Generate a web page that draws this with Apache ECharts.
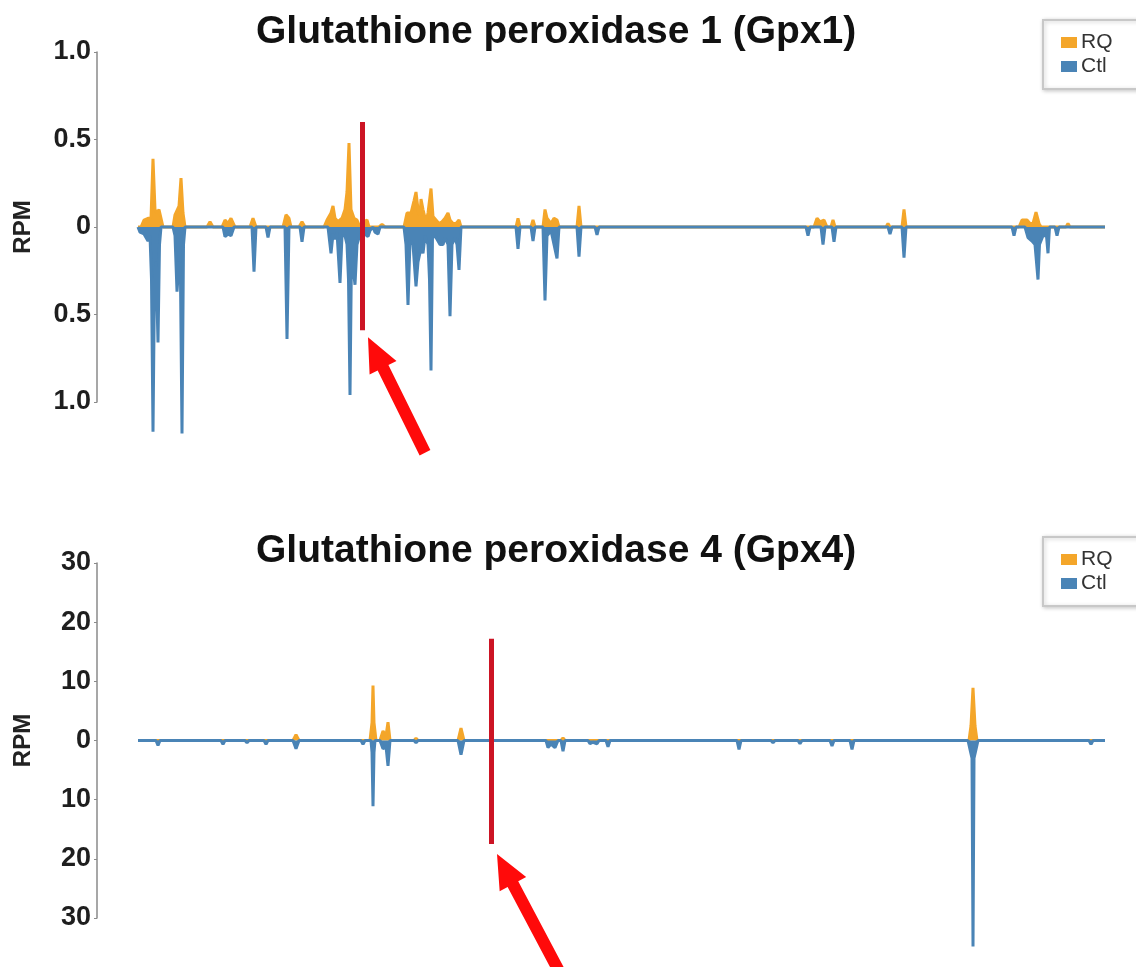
<!DOCTYPE html>
<html>
<head>
<meta charset="utf-8">
<script src="https://cdn.jsdelivr.net/npm/echarts@6/dist/echarts.min.js"></script>
<style>
html,body{margin:0;padding:0;background:#fff;}
#chart{width:1136px;height:967px;}
</style>
</head>
<body>
<div id="chart"></div>
<script>
// ---- Data (position bins along transcript, RPM values) ----
const titles = ['Glutathione peroxidase 1 (Gpx1)', 'Glutathione peroxidase 4 (Gpx4)'];
const seriesNames = ['RQ', 'Ctl'];
const xRange = [0, 1008];

const gpx1Ticks = [-1, -0.5, 0, 0.5, 1];
const gpx4Ticks = [-30, -20, -10, 0, 10, 20, 30];

// Gpx1, RQ (plotted upward)
const gpx1_RQ = [
  [41,0],[44,0],[47,0.04],[51,0.05],[54,0.05],[56,0.39],[58,0.1],[60,0.08],[62,0.1],[64,0.05],[66,0],
  [76,0],[78,0.07],[80,0.08],[82,0.12],[84,0.28],[86,0.08],[88,0],
  [110,0],[113,0.03],[116,0],
  [125,0],[128,0.04],[131,0.02],[134,0.05],[136,0.04],[138,0],
  [153,0],[156,0.05],[159,0],
  [186,0],[189,0.07],[192,0.05],[194,0],
  [202,0],[205,0.03],[208,0],
  [227,0],[230,0.04],[234,0.08],[236,0.12],[238,0.05],[241,0.03],[245,0.05],[248,0.1],[250,0.2],[252,0.48],[254,0.1],[257,0.05],[260,0.04],[263,0],[267,0.03],[270,0.04],[272,0],
  [282,0],[285,0.015],[288,0],
  [307,0],[310,0.08],[314,0.08],[317,0.15],[319,0.2],[321,0.1],[323,0.06],[324,0.16],[326,0.1],[329,0.03],[331,0.08],[334,0.22],[336,0.06],[339,0.04],[342,0.02],[345,0.03],[348,0.05],[351,0.08],[353,0.04],[356,0.02],[359,0.02],[362,0.04],[364,0],
  [419,0],[421,0.05],[423,0],
  [434,0],[436,0.04],[438,0],
  [446,0],[448,0.1],[450,0.05],[452,0.05],[454,0.02],[457,0.05],[460,0.04],[462,0],
  [480,0],[482,0.12],[484,0],
  [717,0],[720,0.05],[723,0.03],[727,0.04],[730,0],[734,0],[736,0.04],[738,0],
  [789,0],[791,0.02],[793,0],
  [805,0],[807,0.1],[809,0],
  [922,0],[925,0.04],[930,0.04],[933,0.02],[936,0.02],[939,0.085],[942,0.02],[944,0],
  [969,0],[971,0.02],[973,0],
  [1008,0]
];
// Gpx1, Ctl (magnitudes, plotted downward)
const gpx1_Ctl = [
  [41,0],[43,0.03],[45,0.02],[47,0.04],[49,0.05],[51,0.08],[53,0.05],[54.5,0.3],[56,1.17],[57.5,0.3],[59,0.2],[61,0.66],[62.5,0.1],[64,0],
  [76,0],[78,0.05],[80,0.37],[82,0.2],[83.5,0.3],[85,1.18],[86.5,0.1],[88,0],
  [126,0],[128,0.055],[131,0.04],[134,0.05],[137,0],
  [155,0],[157,0.255],[159,0],
  [169,0],[171,0.06],[173,0],
  [188,0],[190,0.64],[192,0],
  [203,0],[205,0.085],[207,0],
  [231,0],[234,0.15],[236,0.04],[238,0.07],[240,0.03],[243,0.32],[245,0.05],[248,0.05],[250,0.1],[251.5,0.3],[253,0.96],[254.5,0.15],[258,0.33],[260,0.1],[262,0.06],[265,0.02],[268,0.04],[271,0.055],[273,0.02],[276,0],[278,0.03],[281,0.04],[283,0],
  [307,0],[309,0.1],[311,0.445],[313,0.08],[316,0.1],[319,0.34],[321,0.2],[324,0.12],[326,0.15],[328,0.05],[331,0.1],[332.5,0.3],[334,0.82],[335.5,0.05],[339,0.06],[341,0.055],[343,0.1],[346,0.1],[348,0.06],[351,0.1],[353,0.51],[355,0.1],[358,0.06],[360,0.1],[362,0.245],[364,0],
  [419,0],[421,0.125],[423,0],
  [434,0],[436,0.08],[438,0],
  [446,0],[448,0.42],[450,0.05],[452,0.05],[454,0.02],[457,0.1],[460,0.18],[462,0],
  [480,0],[482,0.17],[484,0],
  [498,0],[500,0.045],[502,0],
  [709,0],[711,0.05],[713,0],
  [724,0],[726,0.1],[728,0],
  [735,0],[737,0.085],[739,0],
  [791,0],[793,0.04],[795,0],
  [805,0],[807,0.175],[809,0],
  [915,0],[917,0.05],[919,0],
  [928,0],[931,0.06],[935,0.08],[938,0.1],[939.5,0.2],[941,0.3],[942.5,0.1],[946,0.05],[949.5,0.05],[951,0.15],[952.5,0],[958,0],[960,0.05],[962,0],
  [1008,0]
];
// Gpx4, RQ
const gpx4_RQ = [
  [41,0],[59,0],[61,0.3],[63,0],
  [124,0],[126,0.2],[128,0],
  [148,0],[150,0.2],[152,0],
  [196,0],[199,1.0],[202,0],
  [247,0],[249,0.15],[251,0],
  [273,0],[275,3],[276,9.3],[277,3],[279,0],[283,0],[286,1.6],[289,0.8],[291,3.1],[293,0],
  [317,0],[319,0.4],[321,0],
  [361,0],[364,2.1],[367,0],
  [464,0],[466,0.45],[468,0],
  [509,0],[511,0.2],[513,0],
  [640,0],[642,0.3],[644,0],
  [701,0],[703,0.3],[705,0],
  [872,0],[874,2.5],[876,8.9],[878,2.5],[880,0],
  [1008,0]
];
// Gpx4, Ctl (magnitudes)
const gpx4_Ctl = [
  [41,0],[59,0],[61,0.85],[63,0],
  [124,0],[126,0.65],[128,0],
  [148,0],[150,0.4],[152,0],
  [167,0],[169,0.65],[171,0],
  [196,0],[199,1.4],[202,0],
  [264,0],[266,0.65],[268,0],
  [274,0],[275,2],[276,11.1],[277,2],[278,0],[283,0],[286,1.4],[289,1.0],[291,4.3],[293,0],
  [317,0],[319,0.4],[321,0],
  [361,0],[364,2.4],[367,0],
  [449,0],[451,1.2],[454,0.6],[458,1.2],[461,0],[464,0],[466,1.8],[468,0],
  [491,0],[493,0.55],[496,0.3],[500,0.55],[502,0],[509,0],[511,1.05],[513,0],[521,0],[523,0.3],[525,0],
  [640,0],[642,1.5],[644,0],
  [666,0],[668,0.3],[670,0],[674,0],[676,0.4],[678,0],
  [701,0],[703,0.55],[705,0],
  [733,0],[735,0.95],[737,0],
  [753,0],[755,1.5],[757,0],
  [871,0],[873,1.5],[875,3],[876,34.8],[877,3],[879,1.5],[881,0],
  [992,0],[994,0.65],[996,0],
  [1008,0]
];

// Annotations (data space): red marker line [top, bottom] and arrow [tail, tip] per panel
const gpx1MarkerLine = [[265, 0.6], [265, -0.59]];
const gpx1Arrow = [[328, -1.29], [271, -0.63]];
const gpx4MarkerLine = [[394, 17.2], [394, -17.5]];
const gpx4Arrow = [[463, -39.3], [400, -19.2]];

// ---- Chart ----
const ORANGE = '#f4a62a';
const BLUE = '#4a84b6';
const RED_LINE = '#cc1424';
const RED_ARROW = '#ff0a0a';
const FONT = '"Liberation Sans", Arial, sans-serif';
const neg = arr => arr.map(p => [p[0], -p[1]]);

function lineSeries(name, data, color, idx, z) {
  return {
    name: name, type: 'line', data: data, xAxisIndex: idx, yAxisIndex: idx,
    symbol: 'none', showSymbol: false, clip: false, z: z,
    color: color,
    lineStyle: { color: color, width: 3 },
    areaStyle: { color: color, opacity: 1 },
    emphasis: { disabled: true }
  };
}
function markerSeries(name, pts, idx) {
  return {
    name: name, type: 'line', data: [], xAxisIndex: idx, yAxisIndex: idx, z: 10, clip: false,
    markLine: {
      silent: true, animation: false, symbol: ['none', 'none'],
      label: { show: false },
      lineStyle: { color: RED_LINE, width: 5, type: 'solid' },
      data: [[{ coord: pts[0] }, { coord: pts[1] }]]
    }
  };
}
function yAxis(idx, ticks, fmt) {
  return {
    type: 'value', gridIndex: idx,
    min: ticks[0], max: ticks[ticks.length - 1], interval: ticks[1] - ticks[0],
    name: 'RPM', nameLocation: 'middle', nameGap: 62,
    nameTextStyle: { fontFamily: FONT, fontWeight: 'bold', fontSize: 24, color: '#222' },
    axisLine: { show: true, lineStyle: { color: '#8a8a8a', width: 1.5 } },
    axisTick: { show: true, length: 3, lineStyle: { color: '#8a8a8a' } },
    splitLine: { show: false },
    axisLabel: { fontFamily: FONT, fontWeight: 'bold', fontSize: 27, color: '#1e1e1e', margin: 6, formatter: fmt }
  };
}
function legend(top) {
  return {
    data: seriesNames, orient: 'vertical', left: 1043, top: top,
    icon: 'rect', itemWidth: 16, itemHeight: 11, itemGap: 3,
    padding: [12, 40, 12, 18],
    backgroundColor: '#fff', borderColor: '#c8c8c8', borderWidth: 2,
    shadowBlur: 4, shadowColor: 'rgba(0,0,0,0.2)', shadowOffsetX: 1, shadowOffsetY: 1,
    textStyle: { fontFamily: FONT, fontSize: 21, color: '#333', padding: [0, 0, 0, -1] },
    selectedMode: false
  };
}

const chart = echarts.init(document.getElementById('chart'), null, { renderer: 'canvas' });
chart.setOption({
  animation: false,
  backgroundColor: '#fff',
  title: [
    { text: titles[0], left: 256, top: 13, padding: 0, textStyle: { fontFamily: FONT, fontWeight: 'bold', fontSize: 39, color: '#111' } },
    { text: titles[1], left: 256, top: 532, padding: 0, textStyle: { fontFamily: FONT, fontWeight: 'bold', fontSize: 39, color: '#111' } }
  ],
  legend: [legend(20), legend(537)],
  grid: [
    { left: 97, right: 31, top: 52, height: 350 },
    { left: 97, right: 31, top: 563, height: 355 }
  ],
  xAxis: [
    { type: 'value', gridIndex: 0, min: xRange[0], max: xRange[1], show: false },
    { type: 'value', gridIndex: 1, min: xRange[0], max: xRange[1], show: false }
  ],
  yAxis: [
    yAxis(0, gpx1Ticks, v => v === 0 ? '0' : Math.abs(v).toFixed(1)),
    yAxis(1, gpx4Ticks, v => String(Math.abs(v)))
  ],
  series: [
    lineSeries('RQ', gpx1_RQ, ORANGE, 0, 2),
    lineSeries('Ctl', neg(gpx1_Ctl), BLUE, 0, 3),
    lineSeries('RQ', gpx4_RQ, ORANGE, 1, 2),
    lineSeries('Ctl', neg(gpx4_Ctl), BLUE, 1, 3),
    markerSeries('marker1', gpx1MarkerLine, 0),
    markerSeries('marker4', gpx4MarkerLine, 1)
  ]
});

// Arrows: placed from data coordinates through the grid's scales
function arrowGraphic(gridIndex, pts) {
  const tail = chart.convertToPixel({ gridIndex: gridIndex }, pts[0]);
  const tip = chart.convertToPixel({ gridIndex: gridIndex }, pts[1]);
  const dx = tip[0] - tail[0], dy = tip[1] - tail[1];
  const len = Math.sqrt(dx * dx + dy * dy);
  const ux = dx / len, uy = dy / len, px = -uy, py = ux;
  const headLen = 34, headHalf = 15, shaftHalf = 6;
  const bx = tip[0] - ux * headLen, by = tip[1] - uy * headLen;
  return {
    type: 'polygon', z: 100, silent: true,
    shape: { points: [
      [tail[0] + px * shaftHalf, tail[1] + py * shaftHalf],
      [bx + px * shaftHalf, by + py * shaftHalf],
      [bx + px * headHalf, by + py * headHalf],
      tip,
      [bx - px * headHalf, by - py * headHalf],
      [bx - px * shaftHalf, by - py * shaftHalf],
      [tail[0] - px * shaftHalf, tail[1] - py * shaftHalf]
    ] },
    style: { fill: RED_ARROW }
  };
}
chart.setOption({ graphic: [arrowGraphic(0, gpx1Arrow), arrowGraphic(1, gpx4Arrow)] });
</script>
</body>
</html>
